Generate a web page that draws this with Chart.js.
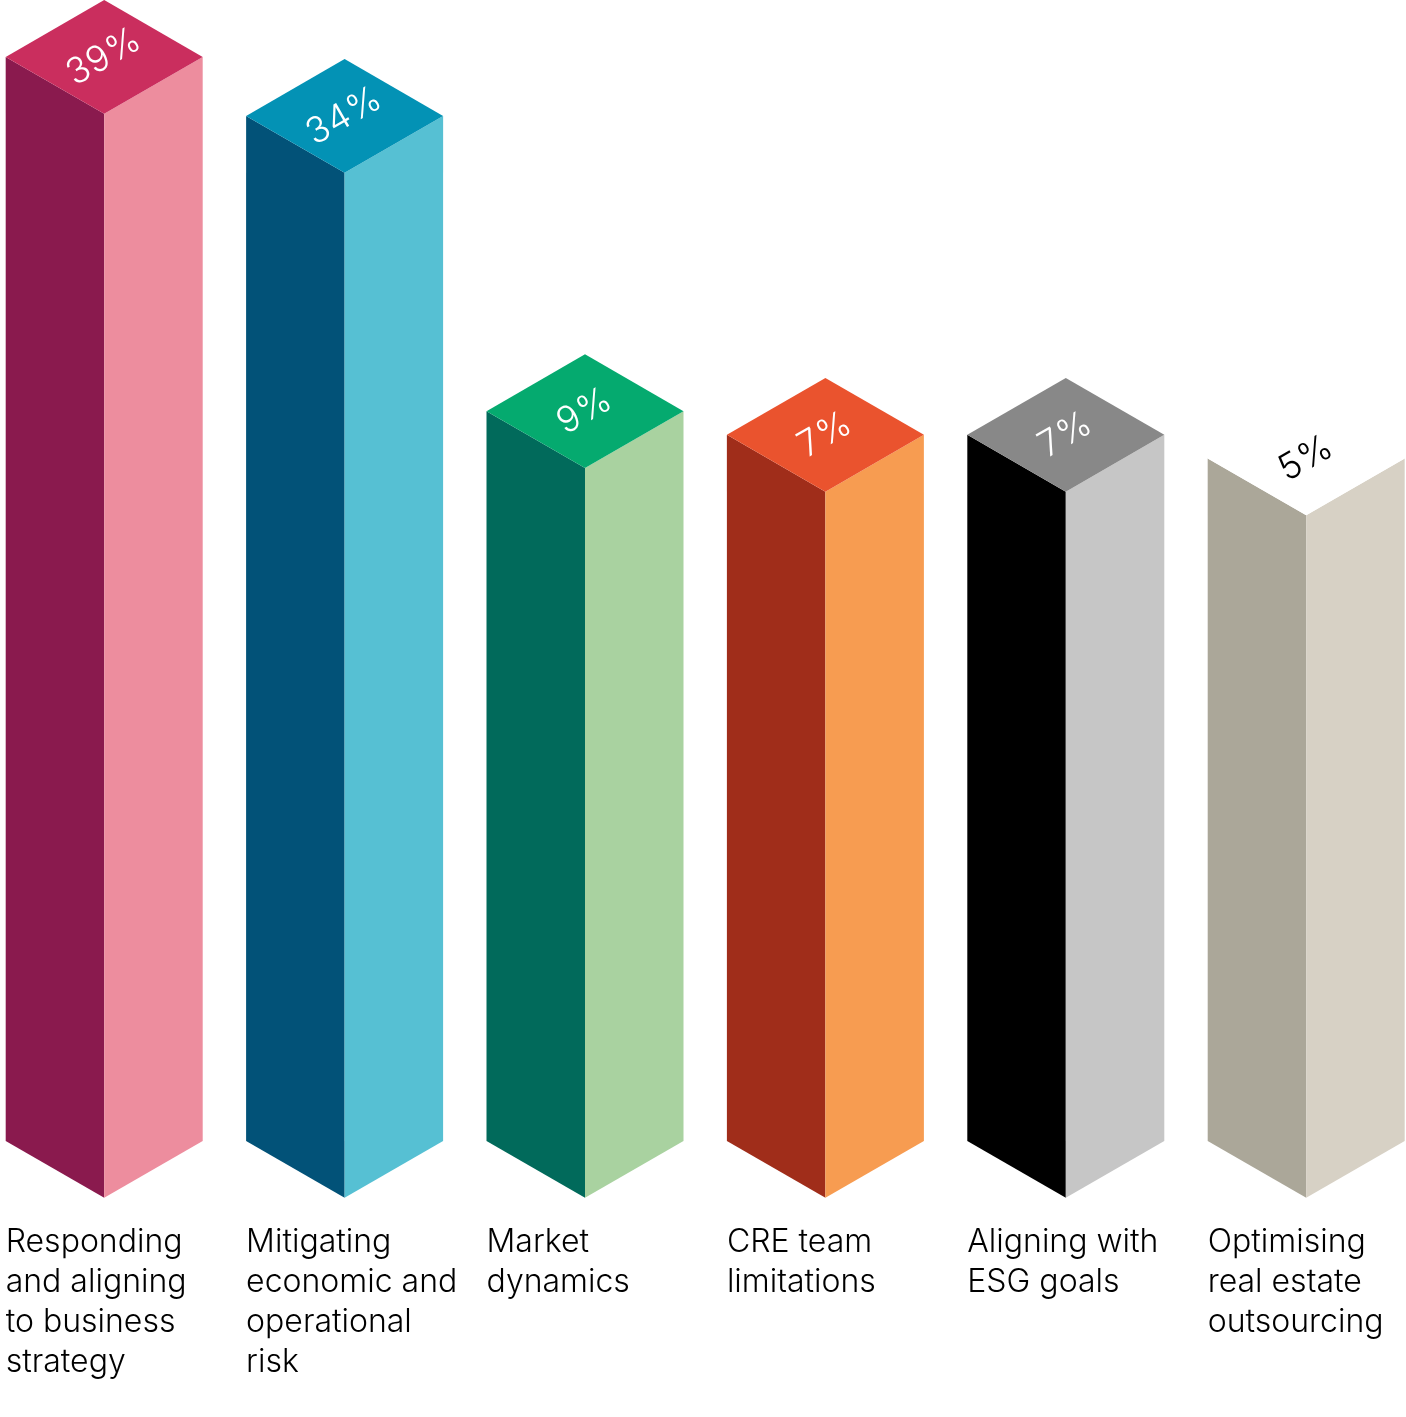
<!DOCTYPE html>
<html>
<head>
<meta charset="utf-8">
<title>Isometric bars</title>
<script src="https://cdn.jsdelivr.net/npm/chart.js@4"></script>
<style>
  html, body { margin: 0; padding: 0; background: #fff; }
  canvas { display: block; }
</style>
</head>
<body>
<canvas id="myChart" width="1406" height="1417"></canvas>
<script>
const categories = [
    ['Responding', 'and aligning', 'to business', 'strategy'],
    ['Mitigating', 'economic and', 'operational', 'risk'],
    ['Market', 'dynamics'],
    ['CRE team', 'limitations'],
    ['Aligning with', 'ESG goals'],
    ['Optimising', 'real estate', 'outsourcing']
];
const percentages = [39, 34, 9, 7, 7, 5];
const leftColors = ['#8a1a4e', '#025278', '#016a5b', '#a02d1a', '#000000', '#aba799'];
const rightColors = ['#ed8d9e', '#56c0d3', '#a9d2a0', '#f79c51', '#c6c6c6', '#d7d1c5'];
const topColors = ['#ca2e5e', '#0392b5', '#05aa6f', '#ea532e', '#888888', '#ffffff'];
const labelColors = ['#ffffff', '#ffffff', '#ffffff', '#ffffff', '#ffffff', '#000000'];

const axisMin = -52.8;
const axisMax = 43.82;

// draws each bar as an isometric column, from the positions the scales gave it
const isoBars = {
    id: 'isoBars',
    afterDatasetsDraw(chart) {
        const ctx = chart.ctx;
        chart.getDatasetMeta(0).data.forEach((bar, i) => {
            const half = bar.width / 2;
            const depth = half * Math.tan(Math.PI / 6);
            const x = bar.x;
            const top = bar.y;
            const base = bar.base;
            const shape = (color, points) => {
                ctx.fillStyle = color;
                ctx.beginPath();
                points.forEach(([px, py], n) => n ? ctx.lineTo(px, py) : ctx.moveTo(px, py));
                ctx.closePath();
                ctx.fill();
            };
            shape(leftColors[i], [[x - half, top], [x, top + depth], [x, base + depth], [x - half, base]]);
            shape(rightColors[i], [[x + half, top], [x, top + depth], [x, base + depth], [x + half, base]]);
            shape(topColors[i], [[x, top - depth], [x + half, top], [x, top + depth], [x - half, top]]);

            ctx.save();
            ctx.translate(x, top);
            ctx.rotate(-Math.PI / 6);
            ctx.font = '300 36px Inter';
            ctx.letterSpacing = '1px';
            ctx.textAlign = 'center';
            ctx.textBaseline = 'middle';
            ctx.fillStyle = labelColors[i];
            ctx.fillText(percentages[i] + '%', 0, 0);
            ctx.restore();
        });
    }
};

const myChart = new Chart(document.getElementById('myChart').getContext('2d'), {
    type: 'bar',
    data: {
        labels: categories,
        datasets: [{
            data: percentages,
            base: axisMin,
            barThickness: 197,
            backgroundColor: 'rgba(0, 0, 0, 0)'
        }]
    },
    options: {
        responsive: false,
        animation: false,
        layout: { padding: { left: 104.2, right: 99.8, top: 0, bottom: 0 } },
        plugins: { legend: { display: false }, tooltip: { enabled: false } },
        scales: {
            x: {
                offset: false,
                grid: { display: false },
                border: { display: false },
                afterFit(scale) {
                    scale.paddingLeft = 0;
                    scale.paddingRight = 0;
                    scale.height = 276;
                },
                ticks: {
                    autoSkip: false,
                    maxRotation: 0,
                    minRotation: 0,
                    align: 'start',
                    labelOffset: -98.5,
                    padding: 73,
                    color: '#000000',
                    font: { family: 'Inter', size: 32, weight: 300, lineHeight: 1.25 }
                }
            },
            y: {
                display: false,
                min: axisMin,
                max: axisMax
            }
        }
    },
    plugins: [isoBars]
});
</script>
</body>
</html>
